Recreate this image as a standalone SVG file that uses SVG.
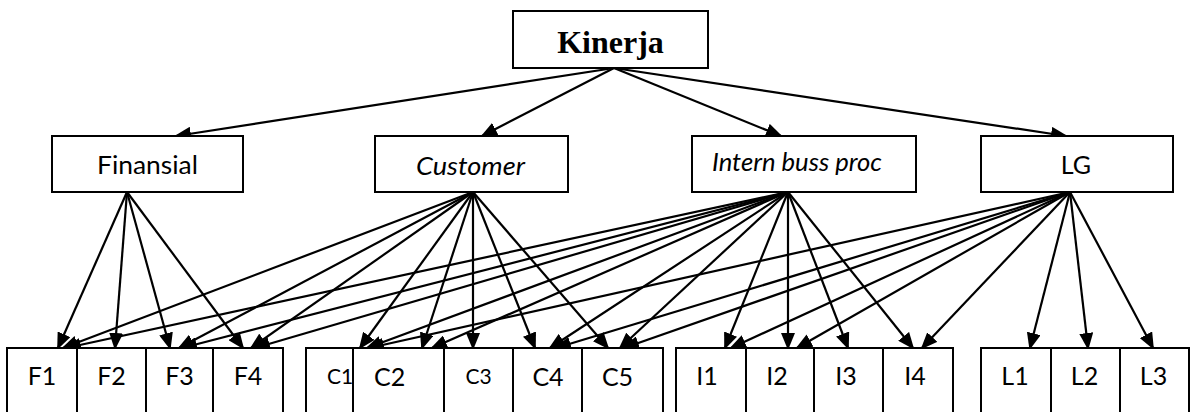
<svg xmlns="http://www.w3.org/2000/svg" width="1195" height="412" viewBox="0 0 1195 412">
  <style>
    .box { fill: #ffffff; stroke: #000000; stroke-width: 2; }
    .lbl { font-family: Lato, "Open Sans", "Liberation Sans", sans-serif; font-size: 25px; fill: #000000; }
    .sm { font-size: 21px; }
    .it { font-style: italic; }
    .title { font-family: "Liberation Serif", "Times New Roman", serif; font-weight: bold; font-size: 32px; fill: #000000; }
    .conn line { stroke: #000000; stroke-width: 2.2; marker-end: url(#ah); }
  </style>
  <defs>
    <marker id="ah" markerUnits="userSpaceOnUse" markerWidth="17" markerHeight="14" refX="15" refY="7" orient="auto">
      <path d="M0,0 L17,7 L0,14 Z" fill="#000000"/>
    </marker>
  </defs>
  <rect width="1195" height="412" fill="#ffffff"/>

  <!-- connectors -->
  <g id="connectors" class="conn">
    <!-- Kinerja to perspectives -->
    <line x1="614" y1="68" x2="176" y2="136"/>
    <line x1="614" y1="68" x2="482" y2="136"/>
    <line x1="614" y1="68" x2="781" y2="136"/>
    <line x1="614" y1="68" x2="1066" y2="136"/>
    <!-- Finansial -->
    <line x1="127" y1="192" x2="58" y2="348"/>
    <line x1="127" y1="192" x2="115" y2="348"/>
    <line x1="127" y1="192" x2="170" y2="348"/>
    <line x1="127" y1="192" x2="243" y2="348"/>
    <!-- Customer -->
    <line x1="473" y1="192" x2="63" y2="348"/>
    <line x1="473" y1="192" x2="179" y2="348"/>
    <line x1="473" y1="192" x2="251" y2="348"/>
    <line x1="473" y1="192" x2="360" y2="348"/>
    <line x1="473" y1="192" x2="422" y2="348"/>
    <line x1="473" y1="192" x2="473" y2="348"/>
    <line x1="473" y1="192" x2="535" y2="348"/>
    <line x1="473" y1="192" x2="608" y2="348"/>
    <!-- Intern buss proc -->
    <line x1="788" y1="192" x2="66" y2="348"/>
    <line x1="788" y1="192" x2="182" y2="348"/>
    <line x1="788" y1="192" x2="255" y2="348"/>
    <line x1="788" y1="192" x2="367" y2="348"/>
    <line x1="788" y1="192" x2="432" y2="348"/>
    <line x1="788" y1="192" x2="550" y2="348"/>
    <line x1="788" y1="192" x2="620" y2="348"/>
    <line x1="788" y1="192" x2="725" y2="348"/>
    <line x1="788" y1="192" x2="788" y2="348"/>
    <line x1="788" y1="192" x2="848" y2="348"/>
    <line x1="788" y1="192" x2="913" y2="348"/>
    <!-- LG -->
    <line x1="1070" y1="192" x2="369" y2="348"/>
    <line x1="1070" y1="192" x2="556" y2="348"/>
    <line x1="1070" y1="192" x2="624" y2="348"/>
    <line x1="1070" y1="192" x2="731" y2="348"/>
    <line x1="1070" y1="192" x2="797" y2="348"/>
    <line x1="1070" y1="192" x2="922" y2="348"/>
    <line x1="1070" y1="192" x2="1030" y2="348"/>
    <line x1="1070" y1="192" x2="1088" y2="348"/>
    <line x1="1070" y1="192" x2="1153" y2="348"/>
  </g>

  <!-- root -->
  <g id="kinerja">
    <rect class="box" x="513" y="11" width="195" height="57"/>
    <text class="title" x="610.5" y="53" text-anchor="middle">Kinerja</text>
  </g>

  <!-- perspectives -->
  <g id="finansial">
    <rect class="box" x="52" y="136" width="191" height="56"/>
    <text class="lbl" x="97" y="174" font-size="26" textLength="101" lengthAdjust="spacingAndGlyphs">Finansial</text>
  </g>
  <g id="customer">
    <rect class="box" x="375" y="136" width="193" height="56"/>
    <text class="lbl it" x="416" y="175" font-size="26" textLength="109" lengthAdjust="spacingAndGlyphs">Customer</text>
  </g>
  <g id="intern">
    <rect class="box" x="692" y="136" width="224" height="56"/>
    <text class="lbl it" x="712" y="171" font-size="23" textLength="170" lengthAdjust="spacingAndGlyphs">Intern buss proc</text>
  </g>
  <g id="lg">
    <rect class="box" x="981" y="136" width="192" height="56"/>
    <text class="lbl" x="1076" y="174" text-anchor="middle">LG</text>
  </g>

  <!-- financial indicators -->
  <g id="f1"><rect class="box" x="7" y="348" width="70" height="80"/><text class="lbl" x="42" y="385" text-anchor="middle">F1</text></g>
  <g id="f2"><rect class="box" x="77" y="348" width="69" height="80"/><text class="lbl" x="111.5" y="385" text-anchor="middle">F2</text></g>
  <g id="f3"><rect class="box" x="146" y="348" width="67" height="80"/><text class="lbl" x="179.5" y="385" text-anchor="middle">F3</text></g>
  <g id="f4"><rect class="box" x="213" y="348" width="70" height="80"/><text class="lbl" x="248" y="385" text-anchor="middle">F4</text></g>

  <!-- customer indicators -->
  <g id="c1"><rect class="box" x="306" y="348" width="80" height="80"/><text class="lbl sm" x="327" y="384">C1</text></g>
  <g id="c2"><rect class="box" x="353" y="348" width="91" height="80"/><text class="lbl" x="374" y="386">C2</text></g>
  <g id="c3"><rect class="box" x="444" y="348" width="69" height="80"/><text class="lbl sm" x="478.5" y="384" text-anchor="middle">C3</text></g>
  <g id="c4"><rect class="box" x="513" y="348" width="69" height="80"/><text class="lbl" x="548" y="386" text-anchor="middle">C4</text></g>
  <g id="c5"><rect class="box" x="582" y="348" width="81" height="80"/><text class="lbl" x="617.5" y="386" text-anchor="middle">C5</text></g>

  <!-- internal process indicators -->
  <g id="i1"><rect class="box" x="676" y="348" width="70" height="80"/><text class="lbl" x="707" y="385" text-anchor="middle">I1</text></g>
  <g id="i2"><rect class="box" x="746" y="348" width="68" height="80"/><text class="lbl" x="777" y="385" text-anchor="middle">I2</text></g>
  <g id="i3"><rect class="box" x="814" y="348" width="69" height="80"/><text class="lbl" x="846" y="385" text-anchor="middle">I3</text></g>
  <g id="i4"><rect class="box" x="883" y="348" width="70" height="80"/><text class="lbl" x="915" y="385" text-anchor="middle">I4</text></g>

  <!-- learning and growth indicators -->
  <g id="l1"><rect class="box" x="981" y="348" width="70" height="80"/><text class="lbl" x="1015" y="385" text-anchor="middle">L1</text></g>
  <g id="l2"><rect class="box" x="1051" y="348" width="69" height="80"/><text class="lbl" x="1084.5" y="385" text-anchor="middle">L2</text></g>
  <g id="l3"><rect class="box" x="1120" y="348" width="69" height="80"/><text class="lbl" x="1153.5" y="385" text-anchor="middle">L3</text></g>
</svg>
